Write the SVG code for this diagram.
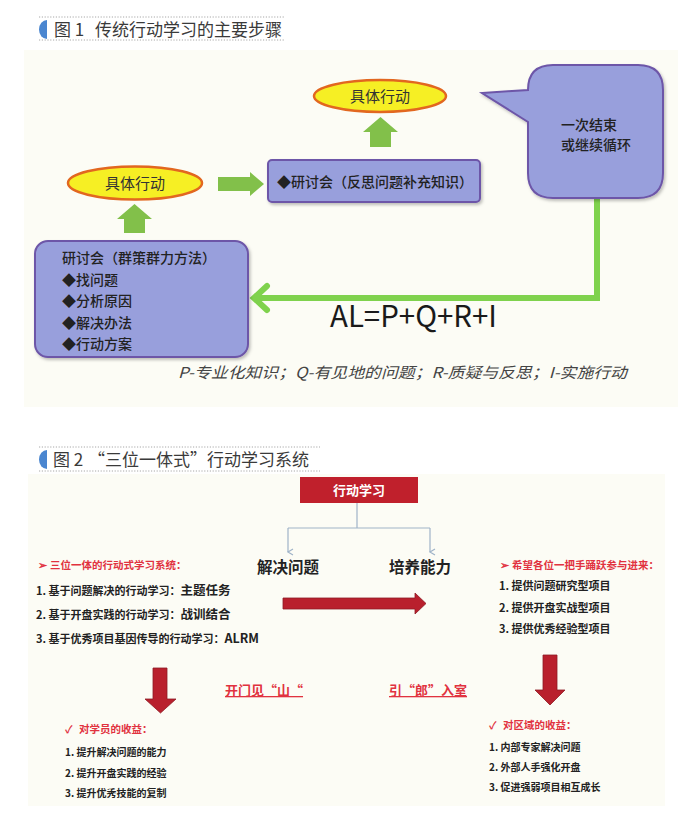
<svg xmlns="http://www.w3.org/2000/svg" width="682" height="816" viewBox="0 0 682 816">
<style>
text{font-family:"Noto Sans CJK SC","Liberation Sans",sans-serif;}
.title{font-size:17px;fill:#3a3a3a;}
.dot{stroke:#a8a8a8;stroke-width:1;stroke-dasharray:1.2 1.6;}
.blue{fill:#4a86d0;}
.panel{fill:#fcfcf5;}
.ell{fill:#f6ef24;stroke:#e2671f;stroke-width:2.5;}
.ellt{font-size:15px;fill:#333;text-anchor:middle;}
.pbox{fill:#989fdc;stroke:#6d56a8;stroke-width:2;}
.pt{font-size:14px;fill:#222;font-weight:500;}
.garrow{fill:#82c04a;}
.gline{fill:none;stroke:#7fd24d;stroke-width:6;}
.red{fill:#b9202d;}
.rh{font-size:10.5px;fill:#e1323f;font-weight:bold;}
.bl{font-size:11px;fill:#222;font-weight:bold;}
.big{font-size:12.5px;}
.sm{font-size:10px;fill:#222;font-weight:bold;}
.mid{font-size:15.5px;fill:#222;font-weight:bold;text-anchor:middle;}
.ul{font-size:13px;fill:#e1323f;font-weight:bold;text-decoration:underline;}
.conn{fill:none;stroke:#9fb3c8;stroke-width:1.2;}
</style>
<defs>
<filter id="sh" x="-10%" y="-10%" width="125%" height="130%">
<feDropShadow dx="1.5" dy="2" stdDeviation="1.5" flood-color="#000" flood-opacity="0.25"/>
</filter>
<marker id="ah" markerWidth="8" markerHeight="8" refX="4" refY="6" orient="auto" markerUnits="userSpaceOnUse" viewBox="0 0 8 8">
<path d="M1,1 L4,6 L7,1" fill="none" stroke="#9fb3c8" stroke-width="1.2"/>
</marker>
</defs>

<rect width="682" height="816" fill="#ffffff"/>

<!-- Figure 1 -->
<g id="fig1-title">
<line class="dot" x1="39" y1="17" x2="285" y2="17"/>
<line class="dot" x1="39" y1="40" x2="285" y2="40"/>
<path class="blue" d="M47,20 A8,9.5 0 0 0 47,39 Z"/>
<text class="title" x="54" y="36">图 1<tspan x="95">传统行动学习的主要步骤</tspan></text>
</g>
<rect class="panel" x="24" y="50" width="654" height="357"/>

<g id="connectors1">
<path class="garrow" d="M218,177 H250 V172 L264,184 L250,196 V191 H218 Z"/>
<path class="garrow" d="M117,219 L134.5,204 L152,219 H145 V233 H124 V219 Z"/>
<path class="garrow" d="M363,132 L380.5,117 L398,132 H391 V147 H370 V132 Z"/>
<path class="gline" d="M597,198 V298 H256"/>
<path class="gline" d="M267,286 L254,298 L267,310" stroke-linecap="round"/>
</g>

<g id="n-action1">
<ellipse class="ell" cx="135" cy="183" rx="67" ry="16.5"/>
<text class="ellt" x="135" y="188.5">具体行动</text>
</g>
<g id="n-action2">
<ellipse class="ell" cx="380" cy="96" rx="66" ry="16"/>
<text class="ellt" x="380" y="101.5">具体行动</text>
</g>
<g id="n-seminar2">
<rect class="pbox" x="268" y="160" width="212" height="42" rx="4" filter="url(#sh)"/>
<text class="pt" x="277" y="187">◆研讨会（反思问题补充知识）</text>
</g>
<g id="n-end">
<path class="pbox" filter="url(#sh)" d="M553,65 H638 Q663,65 663,90 V173 Q663,198 638,198 H553 Q528,198 528,173 V122 L482,93 L528,90 Q528,65 553,65 Z"/>
<text class="pt" x="561" y="130">一次结束</text>
<text class="pt" x="561" y="150">或继续循环</text>
</g>
<g id="n-seminar1">
<rect class="pbox" x="35" y="241" width="213" height="116" rx="13" filter="url(#sh)"/>
<text class="pt" x="62" y="263">研讨会（群策群力方法）</text>
<text class="pt" x="62" y="285">◆找问题</text>
<text class="pt" x="62" y="306">◆分析原因</text>
<text class="pt" x="62" y="328">◆解决办法</text>
<text class="pt" x="62" y="349">◆行动方案</text>
</g>
<g id="formula">
<text x="330" y="327" font-family="Liberation Sans Narrow, Liberation Sans, sans-serif" font-size="30" fill="#1a1a1a" textLength="167" lengthAdjust="spacingAndGlyphs">AL=P+Q+R+I</text>
<text x="178" y="378" font-size="15" fill="#444" font-style="italic" textLength="449" lengthAdjust="spacingAndGlyphs">P-专业化知识；Q-有见地的问题；R-质疑与反思；I-实施行动</text>
</g>

<!-- Figure 2 -->
<g id="fig2-title">
<line class="dot" x1="39" y1="447" x2="320" y2="447"/>
<line class="dot" x1="39" y1="471" x2="320" y2="471"/>
<path class="blue" d="M47,450 A8,9.5 0 0 0 47,469 Z"/>
<text class="title" x="53" y="466">图 2<tspan x="88">“三位一体式”行动学习系统</tspan></text>
</g>
<rect class="panel" x="28" y="474" width="637" height="332"/>

<g id="connectors2">
<path class="conn" d="M357,503 V528"/>
<path class="conn" d="M288,528 H430"/>
<path class="conn" d="M288,528 V552" marker-end="url(#ah)"/>
<path class="conn" d="M430,528 V552" marker-end="url(#ah)"/>
<path class="red" stroke="#8e1a24" stroke-width="0.8" d="M283,598 H415 V593 L426,603.5 L415,614 V609 H283 Z"/>
<path class="red" stroke="#8e1a24" stroke-width="0.8" d="M153,668 H167 V699 H176 L160.5,713 L145,699 H153 Z"/>
<path class="red" stroke="#8e1a24" stroke-width="0.8" d="M543,655 H557 V690 H565 L550,705 L535,690 H543 Z"/>
</g>

<g id="n-al">
<rect x="300" y="477" width="118" height="26" fill="#c0202c"/>
<text x="359" y="495" font-size="13" font-weight="bold" fill="#fff" text-anchor="middle">行动学习</text>
</g>
<g id="n-solve"><text class="mid" x="288" y="573">解决问题</text></g>
<g id="n-ability"><text class="mid" x="420" y="573">培养能力</text></g>

<g id="n-left-list">
<text class="rh" x="38" y="569">➢<tspan x="50">三位一体的行动式学习系统：</tspan></text>
<text class="bl" x="36" y="595">1. 基于问题解决的行动学习：<tspan class="big">主题任务</tspan></text>
<text class="bl" x="36" y="619">2. 基于开盘实践的行动学习：<tspan class="big">战训结合</tspan></text>
<text class="bl" x="36" y="643">3. 基于优秀项目基因传导的行动学习：<tspan class="big">ALRM</tspan></text>
</g>
<g id="n-right-list">
<text class="rh" x="500" y="569">➢<tspan x="512">希望各位一把手踊跃参与进来：</tspan></text>
<text class="bl" x="499" y="590">1. 提供问题研究型项目</text>
<text class="bl" x="499" y="612">2. 提供开盘实战型项目</text>
<text class="bl" x="499" y="633">3. 提供优秀经验型项目</text>
</g>
<g id="n-mountain"><text class="ul" x="225" y="695">开门见“山“</text></g>
<g id="n-wolf"><text class="ul" x="389" y="695">引“郎”入室</text></g>
<g id="n-student">
<text class="rh" x="65" y="733" font-size="10">✓<tspan x="79">对学员的收益：</tspan></text>
<text class="sm" x="65" y="756">1. 提升解决问题的能力</text>
<text class="sm" x="65" y="777">2. 提升开盘实践的经验</text>
<text class="sm" x="65" y="797">3. 提升优秀技能的复制</text>
</g>
<g id="n-region">
<text class="rh" x="489" y="729" font-size="10">✓<tspan x="503">对区域的收益：</tspan></text>
<text class="sm" x="489" y="751">1. 内部专家解决问题</text>
<text class="sm" x="489" y="771">2. 外部人手强化开盘</text>
<text class="sm" x="489" y="791">3. 促进强弱项目相互成长</text>
</g>
</svg>
